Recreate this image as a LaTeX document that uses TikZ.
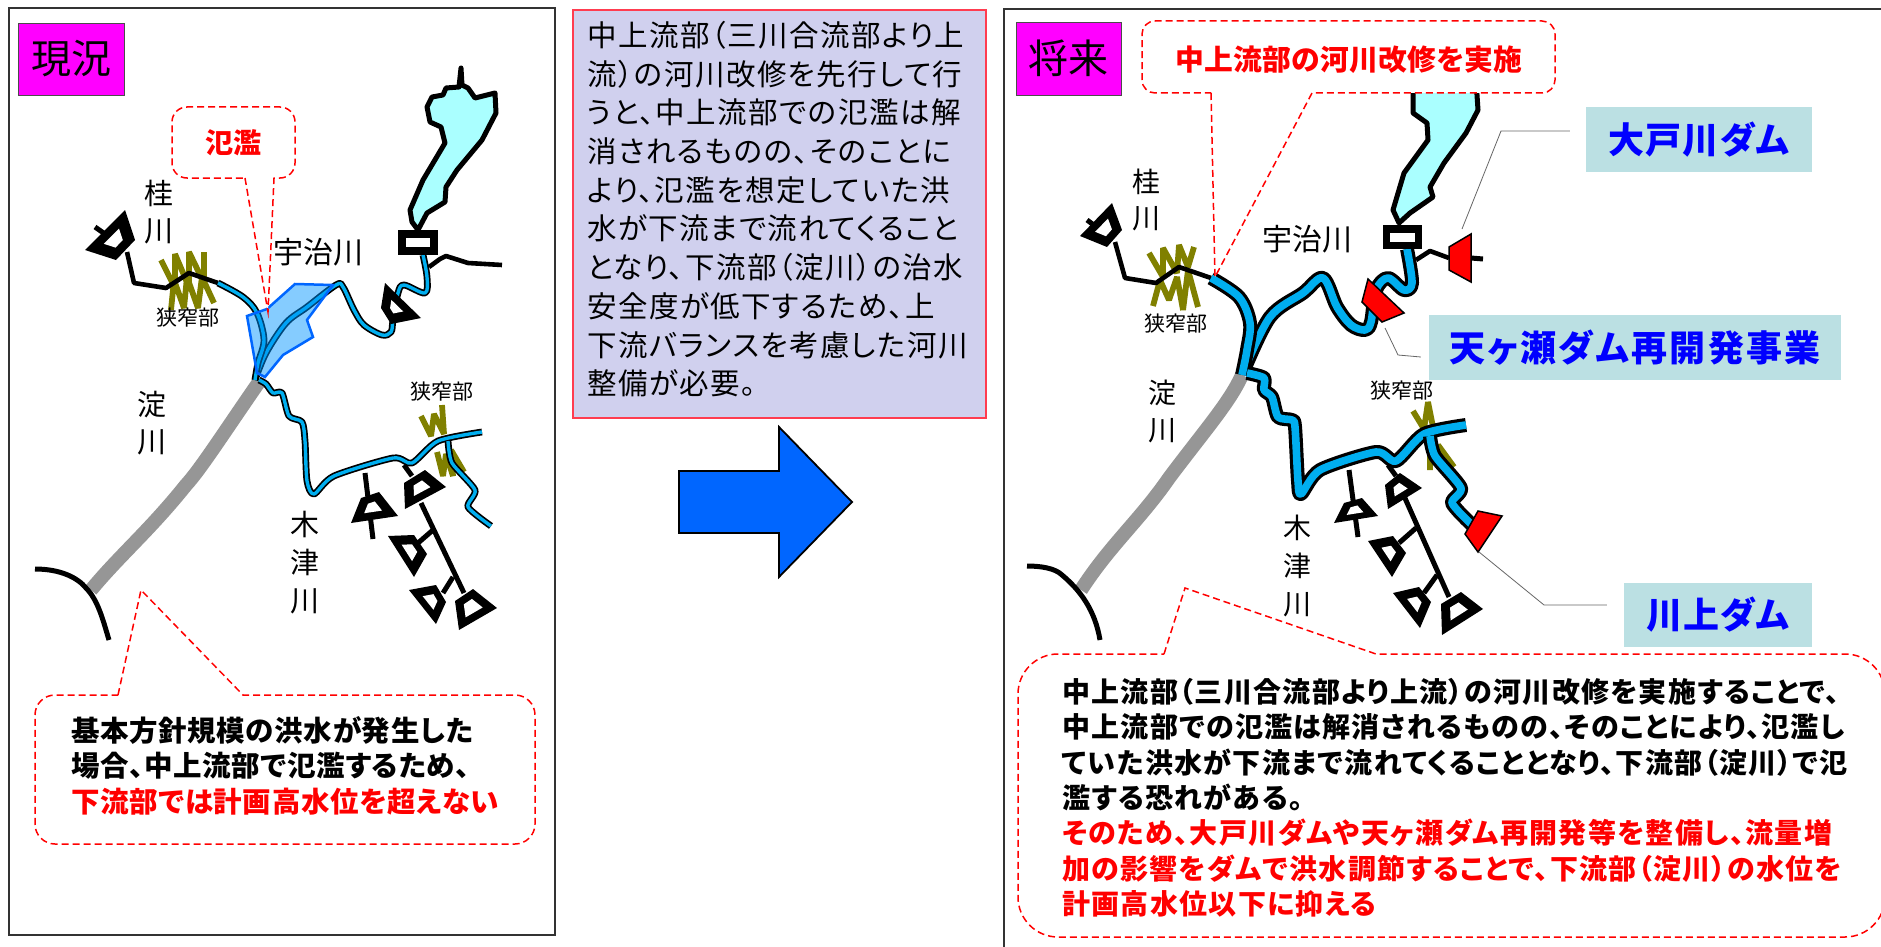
\documentclass[tikz,border=0pt]{standalone}
\usepackage{fontspec}
\setmainfont{Noto Sans CJK JP}[RawFeature=+palt]
\usetikzlibrary{calc}
\definecolor{rivercyan}{HTML}{00AEEF}
\definecolor{zigolive}{HTML}{808000}
\definecolor{lakecyan}{HTML}{AAFFFF}
\definecolor{labelbg}{HTML}{BBE0E3}
\definecolor{midbg}{HTML}{D0D0EE}
\definecolor{tagmagenta}{HTML}{FF00FF}
\definecolor{arrowblue}{HTML}{0066FF}
\definecolor{floodline}{HTML}{0066FF}
\definecolor{floodfill}{HTML}{0096FF}
\definecolor{midline}{HTML}{FF3C50}
\newcommand{\fs}[2]{\fontsize{#1}{#2}\selectfont}
\newcommand{\damshape}[6][black]{%
  \path (#2) coordinate (dA) (#3) coordinate (dB) (#4) coordinate (dC) (#5) coordinate (dD);
  \coordinate (dO) at ($.25*(dA)+.25*(dB)+.25*(dC)+.25*(dD)$);
  \fill[#1] (dA)--(dB)--(dC)--(dD)--cycle;
  \fill[white] ($(dO)!#6!(dA)$)--($(dO)!#6!(dB)$)--($(dO)!#6!(dC)$)--($(dO)!#6!(dD)$)--cycle;
}
\tikzset{
  frameline/.style={draw=black!80,line width=1.6},
  tagbox/.style={draw=black!70,line width=.8,fill=tagmagenta,inner sep=0,font=\fs{40}{44}},
  callout/.style={draw=red,fill=white,dash pattern=on 7pt off 4pt,line width=1.5},
  thinriver/.style={draw=black,line width=1.7,double=rivercyan,double distance=3.4,line join=round},
  thickriver/.style={draw=black,line width=3.2,double=rivercyan,double distance=7.6,line join=round},
  blackriver/.style={draw=black,line width=4.6,line join=round},
  yodo/.style={draw=black!41,line width=14},
  coast/.style={draw=black,line width=5},
  zig/.style={draw=zigolive,line width=5.8,line join=miter,miter limit=2.5},
  lake/.style={draw=black,line width=5,fill=lakecyan,line join=round},
  reddam/.style={draw=black,line width=1.5,fill=red},
  stem/.style={draw=black,line width=5},
  maplabel/.style={inner sep=0,align=center,font=\fs{29}{37}},
  smalllabel/.style={inner sep=0,font=\fs{21}{24}},
  bodytext/.style={inner sep=0,align=left,anchor=north west},
  damname/.style={fill=labelbg,inner sep=0,text=blue,font=\bfseries\fs{36}{40}},
  leader/.style={draw=black!60,line width=.8},
}
\begin{document}
\begin{tikzpicture}[x=1pt,y=-1pt]
\useasboundingbox (0,0) rectangle (1881,947);
\fill[white] (0,0) rectangle (1881,947);

% ---------- LEFT PANEL ----------
\draw[frameline] (9,8) rectangle (555,935);
\node[tagbox,minimum width=106,minimum height=72] (tagnow) at (71,59) {現況};

% Lake
\draw[lake] (461,68) -- (462,85) -- (468,88) -- (475,98) -- (495,93) -- (496,113) -- (482,140) -- (457,170) -- (446,187) -- (445,202) -- (427,213) -- (418,230) -- (412,222) -- (410,210) -- (423,180) -- (445,143) -- (441,127) -- (430,122) -- (427,107) -- (432,97) -- (443,95) -- (446,88) -- (459,87) -- cycle;
% bottlenecks
\draw[zig] (161,260) -- (175,288) -- (175,254) -- (189,287) -- (189,252) -- (204,283) -- (204,252);
\draw[zig] (171,310) -- (174,280) -- (184,308) -- (187,277) -- (198,308) -- (202,277) -- (214,303);
\draw[zig] (421,416) -- (431,436) -- (434,414) -- (444,434) -- (442,405);
\draw[zig] (437,452) -- (443,476) -- (446,454) -- (453,476) -- (451,450) -- (464,472);

% rivers
\draw[yodo] (259,382) .. controls (225,431) and (200,470) .. (186,485) .. controls (150,530) and (120,555) .. (91,590);
\draw[coast] (35,569) .. controls (61,569) and (78,578) .. (86,588) .. controls (98,600) and (103,620) .. (109,640);
\draw[blackriver] (429,267) -- (440,259) -- (446,256) -- (468,263) -- (502,265);
\draw[thinriver] plot[smooth,tension=.55] coordinates {(423,255) (427,277) (425,293) (404,285) (398,293) (393,320) (391,332) (382,335) (364,325) (354,310) (343,287) (336,285) (307,307) (286,323) (266,353) (255,380)};
\draw[blackriver] (127,252) -- (134,283) -- (166,288) -- (189,273) -- (218,283);
\draw[thinriver] plot[smooth,tension=.55] coordinates {(218,283) (243,297) (257,313) (264,340) (258,363) (255,380)};
\draw[thinriver] plot[smooth,tension=.45] coordinates {(259,380) (266,384) (273,393) (282,393) (289,416) (302,422) (305,441) (307,481) (314,494) (334,476) (393,458) (412,463) (438,441) (482,432)};
\draw[thinriver] plot[smooth,tension=.4] coordinates {(448,441) (452,463) (475,490) (468,507) (491,526)};

% flood area
\path[fill=floodfill,fill opacity=.48,draw=floodline,line width=2.5]
  (247,316) -- (267,309) -- (295,284) -- (333,285) -- (307,320) -- (313,337) -- (283,355) -- (265,377) -- (257,373) -- cycle;

% dams
\draw[stem] (95,227) -- (105,234);
\damshape{125,210}{135,240}{116,260}{85,250}{.38}
\damshape{385,283}{421,318}{391,324}{381,308}{.33}
\draw[stem] (365,473) -- (373,539);
\damshape{379,492}{398,516}{351,523}{361,498}{.38}
\draw[stem] (404,465) -- (412,476);
\draw[stem] (421,503) -- (464,593);
\damshape{425,470}{446,487}{405,509}{404,483}{.4}
\draw[stem] (418,543) -- (433,530);
\damshape{414,535}{427,554}{414,577}{388,536}{.4}
\draw[stem] (443,593) -- (453,577);
\damshape{436,585}{446,602}{436,624}{409,590}{.4}
\damshape{473,589}{497,608}{459,630}{455,601}{.45}
% upper-river dam
\fill[black] (398,230) rectangle (438,255);
\fill[white] (406,238) rectangle (430,247);

% labels
\node[maplabel] (lkatsura) at (159,212) {桂\\川};
\node[maplabel,font=\fs{30}{37}] (luji) at (318,252) {宇治川};
\node[maplabel] (lyodo) at (152,423) {淀\\川};
\node[maplabel,font=\fs{29}{38}] (lkizu) at (305,563) {木\\津\\川};
\node[smalllabel] (lnarrowa) at (188,318) {狭窄部};
\node[smalllabel] (lnarrowb) at (442,392) {狭窄部};

% callouts
\draw[callout] (245,178) -- (268,312) -- (274,178) [rounded corners=15] -- (295,178) -- (295,107) -- (172,107) -- (172,178) -- (245,178);
\node[inner sep=0,text=red,font=\bfseries\fs{28}{30}] (tflood) at (233,143) {氾濫};
\draw[callout] (118,695) -- (141,590) -- (243,695) [rounded corners=20] -- (535,695) -- (535,844) -- (35,844) -- (35,695) -- (118,695);
\node[bodytext,font=\bfseries\fs{28.5}{35.5}\addfontfeatures{LetterSpace=2.2}] (tleft) at (71,716) {基本方針規模の洪水が発生した\\場合、中上流部で氾濫するため、\\\textcolor{red}{下流部では計画高水位を超えない}};

% ---------- MIDDLE ----------
\node[draw=midline,line width=1.2,fill=midbg,minimum width=413,minimum height=408,inner sep=0] (midbox) at (779.5,214) {};
\node[bodytext,font=\fs{29.5}{38.7}\addfontfeatures{LetterSpace=5}] (tmid) at (587,21) {中上流部（三川合流部より上\\流）の河川改修を先行して行\\うと、中上流部での氾濫は解\\消されるものの、そのことに\\より、氾濫を想定していた洪\\水が下流まで流れてくること\\となり、下流部（淀川）の治水\\安全度が低下するため、上\\下流バランスを考慮した河川\\整備が必要。};
\draw[draw=black,line width=1.8,fill=arrowblue] (679,471) -- (779,471) -- (779,427) -- (852,502) -- (779,577) -- (779,533) -- (679,533) -- cycle;

% ---------- RIGHT PANEL ----------
\draw[frameline] (1881,9) -- (1004,9) -- (1004,947);
\node[tagbox,minimum width=105,minimum height=73] (tagfut) at (1068.5,58.5) {将来};

\draw[lake] (1413,80) -- (1413,113) -- (1427,123) -- (1428,140) -- (1404,173) -- (1393,210) -- (1399,223) -- (1410,213) -- (1433,197) -- (1430,187) -- (1444,163) -- (1466,133) -- (1478,110) -- (1476,80) -- cycle;

\draw[zig] (1149,253) -- (1163,277) -- (1163,248) -- (1177,273) -- (1179,245) -- (1188,267) -- (1194,247);
\draw[zig] (1153,306) -- (1160,280) -- (1169,300) -- (1177,277) -- (1183,310) -- (1188,270) -- (1198,307);
\draw[zig] (1413,411) -- (1424,429) -- (1428,402) -- (1433,427);
\draw[zig] (1430,470) -- (1430,443) -- (1444,465) -- (1438,445) -- (1454,467);

\draw[yodo] (1242,375) .. controls (1230,402) and (1205,430) .. (1169,478) .. controls (1140,520) and (1110,545) .. (1081,590);
\draw[coast] (1027,566) .. controls (1040,566) and (1055,568) .. (1062,575) .. controls (1080,590) and (1095,610) .. (1100,640);
\draw[blackriver] (1416,260) -- (1430,251) -- (1449,258);
\draw[thickriver] plot[smooth,tension=.55] coordinates {(1407,249) (1412,283) (1404,290) (1388,278) (1376,290) (1371,322) (1365,330) (1351,325) (1337,307) (1323,278) (1303,293) (1270,317) (1244,370)};
\draw[blackriver] (1115,242) -- (1125,278) -- (1156,283) -- (1179,267) -- (1211,278);
\draw[thickriver] plot[smooth,tension=.55] coordinates {(1211,278) (1239,297) (1250,323) (1247,350) (1242,375)};
\draw[thickriver] plot[smooth,tension=.45] coordinates {(1247,373) (1264,378) (1264,390) (1272,397) (1278,417) (1292,420) (1295,427) (1298,481) (1301,494) (1320,470) (1376,452) (1396,461) (1424,434) (1466,425)};
\draw[thickriver] plot[smooth,tension=.4] coordinates {(1430,436) (1435,456) (1461,488) (1452,503) (1472,525)};

% dams
\draw[stem] (1087,220) -- (1095,226);
\damshape{1112,203}{1122,230}{1107,247}{1080,236}{.4}
\draw[reddam] (1368,279) -- (1404,313) -- (1382,322) -- (1362,302) -- cycle;
\draw[reddam] (1471,234) -- (1471,282) -- (1449,270) -- (1449,247) -- cycle;
\draw[stem] (1471,258) -- (1483,259);
\draw[reddam] (1478,511) -- (1502,516) -- (1478,552) -- (1465,534) -- cycle;
\draw[stem] (1349,470) -- (1358,537);
\damshape{1362,498}{1378,516}{1334,523}{1344,503}{.38}
\draw[stem] (1388,465) -- (1396,476);
\draw[stem] (1404,496) -- (1449,597);
\damshape{1400,473}{1422,488}{1388,509}{1385,485}{.38}
\draw[stem] (1399,543) -- (1416,528);
\damshape{1393,536}{1406,553}{1392,577}{1368,541}{.38}
\draw[stem] (1424,593) -- (1437,575);
\damshape{1419,587}{1431,602}{1420,628}{1393,593}{.38}
\damshape{1461,592}{1483,609}{1442,635}{1441,604}{.42}
\fill[black] (1383,225) rectangle (1422,249);
\fill[white] (1390,233) rectangle (1415,242);

% labels
\node[maplabel,font=\fs{28}{36}] (rkatsura) at (1146,200) {桂\\川};
\node[maplabel,font=\fs{30}{37}] (ruji) at (1307,239) {宇治川};
\node[maplabel,font=\fs{28}{37}] (ryodo) at (1162,411) {淀\\川};
\node[maplabel,font=\fs{28}{38}] (rkizu) at (1297,566) {木\\津\\川};
\node[smalllabel] (rnarrowa) at (1176,324) {狭窄部};
\node[smalllabel] (rnarrowb) at (1402,391) {狭窄部};

% dam names and leaders
\node[damname,minimum width=226,minimum height=65] (ohto) at (1699,139.5) {\addfontfeatures{LetterSpace=3}大戸川ダム};
\node[damname,minimum width=412,minimum height=65] (amagase) at (1635,347.5) {\addfontfeatures{LetterSpace=6.5}天ヶ瀬ダム再開発事業};
\node[damname,minimum width=188,minimum height=64] (kawakami) at (1718,614.5) {\addfontfeatures{LetterSpace=3}川上ダム};
\coordinate (ohtoend) at (1462,229);
\coordinate (ohtobend) at (1501,131);
\coordinate (amaend) at (1385,328);
\coordinate (amabend) at (1398,355);
\coordinate (kawaend) at (1479,552);
\coordinate (kawabend) at (1544,605);
\draw[leader] (ohto.west|-ohtobend) ++(-16,0) -- (ohtobend) -- (ohtoend);
\draw[leader] (amagase.west|-amabend) ++(-8,2) -- (amabend) -- (amaend);
\draw[leader] (kawakami.west|-kawabend) ++(-17,0) -- (kawabend) -- (kawaend);

% callouts
\draw[callout] (1211,93) -- (1215,277) -- (1312,93) [rounded corners=13] -- (1555,93) -- (1555,21) -- (1142,21) -- (1142,93) -- (1211,93);
\node[inner sep=0,text=red,font=\bfseries\fs{28.8}{30}] (tplan) at (1349,60) {\addfontfeatures{LetterSpace=1}中上流部の河川改修を実施};
\draw[callout] (1164,654) -- (1185,588) -- (1376,654) [rounded corners=40] -- (1885,654) -- (1885,937) -- (1018,937) -- (1018,654) -- (1164,654);
\node[bodytext,font=\bfseries\fs{28}{35.4}\addfontfeatures{LetterSpace=4.7}] (tright) at (1062,678) {中上流部（三川合流部より上流）の河川改修を実施することで、\\中上流部での氾濫は解消されるものの、そのことにより、氾濫し\\ていた洪水が下流まで流れてくることとなり、下流部（淀川）で氾\\濫する恐れがある。\\\textcolor{red}{そのため、大戸川ダムや天ヶ瀬ダム再開発等を整備し、流量増}\\\textcolor{red}{加の影響をダムで洪水調節することで、下流部（淀川）の水位を}\\\textcolor{red}{計画高水位以下に抑える}};
\end{tikzpicture}
\end{document}
